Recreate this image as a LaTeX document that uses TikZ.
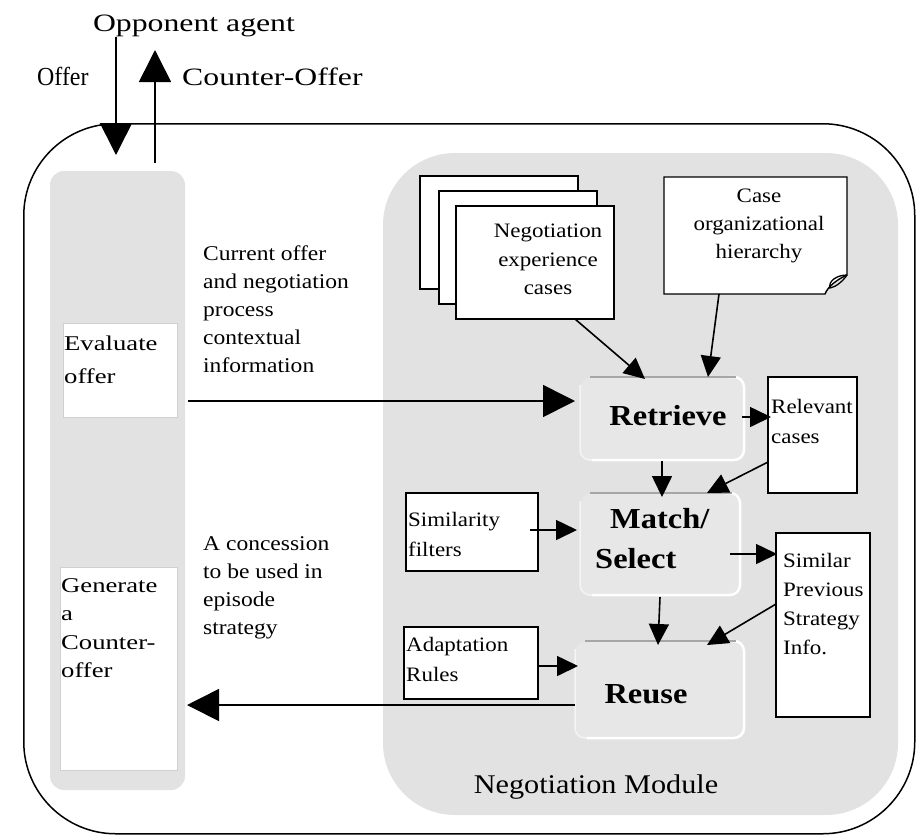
\documentclass[tikz,border=0pt]{standalone}
\usepackage{fontspec}
\setmainfont[FakeStretch=1.12]{Liberation Serif}
\newfontfamily\widefont[FakeStretch=1.27]{Liberation Serif}
\newfontfamily\narrowfont[FakeStretch=0.92]{Liberation Serif}
\usetikzlibrary{arrows.meta}
\definecolor{panelfill}{HTML}{E2E2E2}
\definecolor{procfill}{HTML}{E7E7E7}
\definecolor{procline}{HTML}{A6A6A6}
\definecolor{softedge}{HTML}{D0D0D0}
\begin{document}
\begin{tikzpicture}[x=1pt,y=-1pt,
  panel/.style={fill=panelfill, draw=none, inner sep=0, outer sep=0},
  wbox/.style={fill=white, draw=softedge, line width=1pt, inner sep=0, outer sep=0},
  doc/.style={fill=white, draw=black, line width=1.4pt, inner sep=0, outer sep=0},
  proc/.style={fill=procfill, draw=none, rounded corners=12, inner sep=0, outer sep=0},
  lbl/.style={inner sep=0, align=left, font=\fontsize{21}{28}\selectfont},
  boxlbl/.style={inner sep=0, align=left, font=\fontsize{20.5}{30}\selectfont},
  clbl/.style={inner sep=0, align=center, font=\fontsize{20.5}{28.5}\selectfont},
  big/.style={-{Triangle[length=32pt,width=32pt]}, line width=1.6pt},
  small/.style={-{Triangle[length=21pt,width=20pt]}, line width=1.6pt},
  bold/.style={inner sep=0, align=left, font=\fontsize{29}{40}\selectfont\bfseries}
]
\useasboundingbox (0,0) rectangle (917,836);

% agent frame
\node[draw, line width=1.5pt, rounded corners=92, inner sep=0, minimum width=891, minimum height=710, anchor=north west] (agent) at (23,123) {};

% left column with its two white panels
\node[panel, rounded corners=14, minimum width=135, minimum height=619, anchor=north west] (col) at (50,171) {};
\node[wbox, minimum width=114, minimum height=94, anchor=north west] (evalbox) at (63,323) {};
\node[wbox, minimum width=117, minimum height=203, anchor=north west] (genbox) at (60,567) {};
\node[inner sep=0, align=left, font=\widefont\fontsize{21}{33}\selectfont, anchor=north west] (evaltxt) at (64,336) {Evaluate\\offer};
\node[inner sep=0, align=left, font=\widefont\fontsize{21}{28.5}\selectfont, anchor=north west] (gentxt) at (61,578) {Generate\\a\\Counter-\\offer};

% negotiation module
\node[panel, rounded corners=72, minimum width=515, minimum height=662, anchor=north west] (module) at (383,153) {};
\node[inner sep=0, font=\fontsize{27}{30}\selectfont, anchor=base] (modtxt) at (596,793) {Negotiation Module};

% stacked case documents
\node[doc, minimum width=158, minimum height=113, anchor=north west] (caseback) at (420,176) {};
\node[doc, minimum width=158, minimum height=113, anchor=north west] (casemid) at (439,191) {};
\node[doc, minimum width=158, minimum height=113, anchor=north west] (cases) at (456,206) {};
\node[clbl, anchor=north] (casestxt) at (548,224) {Negotiation\\experience\\cases};

% case hierarchy document with a curled corner
\node[inner sep=0, outer sep=0, minimum width=183, minimum height=117, anchor=north west] (hier) at (664,177) {};
\draw[doc] (hier.north west) -- (hier.north east) -- ([shift={(0,-19)}]hier.south east)
  .. controls ([shift={(-9,-15)}]hier.south east) and ([shift={(-19,-8)}]hier.south east) .. ([shift={(-22,0)}]hier.south east)
  -- (hier.south west) -- cycle;
\draw[line width=1.3pt] ([shift={(0,-19)}]hier.south east)
  .. controls ([shift={(-10,-19)}]hier.south east) and ([shift={(-19,-13)}]hier.south east) .. ([shift={(-17,-6)}]hier.south east)
  .. controls ([shift={(-11,-7)}]hier.south east) and ([shift={(-4,-13)}]hier.south east) .. ([shift={(0,-19)}]hier.south east);
\node[clbl, font=\fontsize{20.5}{28}\selectfont, anchor=north] (hiertxt) at (759,189) {Case\\organizational\\hierarchy};

% process steps: flat grey face, white rim on the right, grey rule on top
\node[proc, minimum width=164, minimum height=83, anchor=north west] (retrieve) at (580,377) {};
\node[proc, minimum width=160, minimum height=102, anchor=north west] (match) at (580,493) {};
\node[proc, minimum width=169, minimum height=97, anchor=north west] (reuse) at (575,641) {};
\foreach \p in {retrieve,match,reuse}{
  \draw[white, line width=2.5pt, rounded corners=10] ([shift={(-16,0)}]\p.north east) -- (\p.north east) -- (\p.south east) -- ([shift={(12,0)}]\p.south west);
  \draw[white, opacity=0.6, line width=1.5pt, rounded corners=10] ([shift={(12,0)}]\p.south west) -- (\p.south west) -- ([shift={(0,8)}]\p.north west);
  \draw[procline, line width=2pt] ([shift={(10,0)}]\p.north west) -- ([shift={(-8,0)}]\p.north east);
}
\node[bold, anchor=base] (retrievetxt) at (668,425) {Retrieve};
\node[bold, anchor=north west] (matchtxt) at (595,508) {\hspace*{15pt}Match/\\Select};
\node[bold, anchor=base] (reusetxt) at (646,703) {Reuse};

% knowledge boxes
\node[doc, minimum width=89, minimum height=116, anchor=north west] (relevant) at (768,377) {};
\node[boxlbl, anchor=north west] (relevanttxt) at (771,399.5) {Relevant\\cases};
\node[doc, minimum width=132, minimum height=78, anchor=north west] (simfilt) at (406,493) {};
\node[boxlbl, anchor=north west] (simfilttxt) at (408,512.5) {Similarity\\filters};
\node[doc, minimum width=94, minimum height=184, anchor=north west] (simprev) at (776,533) {};
\node[boxlbl, font=\fontsize{20.5}{29}\selectfont, anchor=north west] (simprevtxt) at (783,553.5) {Similar\\Previous\\Strategy\\Info.};
\node[doc, minimum width=134, minimum height=72, anchor=north west] (adapt) at (404,627) {};
\node[boxlbl, anchor=north west] (adapttxt) at (406,637.5) {Adaptation\\Rules};

% outside labels
\node[inner sep=0, font=\widefont\fontsize{25}{30}\selectfont, anchor=base] (opp) at (194,31) {Opponent agent};
\node[inner sep=0, font=\narrowfont\fontsize{26}{30}\selectfont, anchor=base west] (offertxt) at (37,85) {Offer};
\node[inner sep=0, font=\widefont\fontsize{25}{30}\selectfont, anchor=base west] (countertxt) at (182,85) {Counter-Offer};
\node[lbl, anchor=north west] (curtxt) at (203,246) {Current offer\\and negotiation\\process\\contextual\\information};
\node[lbl, anchor=north west] (concesstxt) at (203,536) {A concession\\to be used in\\episode\\strategy};

% offer exchange with the opponent
\coordinate (offtop) at (116,37);
\coordinate (ctop) at (155,50);
\draw[big] (offtop) -- ([shift={(-1.5,-16)}]col.north);
\draw[big] ([shift={(37.5,-8)}]col.north) -- (ctop);

% data flow
\draw[big] ([shift={(11,31)}]evalbox.east) -- ([shift={(-5,-17.5)}]retrieve.west);
\draw[big] ([shift={(0,15.5)}]reuse.west) -- ([shift={(10,36.5)}]genbox.east);
\draw[small] ([shift={(40,0)}]cases.south) -- ([shift={(-17,2)}]retrieve.north);
\draw[small] ([shift={(-36.5,0)}]hier.south) -- ([shift={(46,0)}]retrieve.north);
\draw[small] ([shift={(-2,-1.5)}]retrieve.east) -- ([shift={(3,-18)}]relevant.west);
\draw[small] ([shift={(0,1)}]retrieve.south) -- ([shift={(2,4)}]match.north);
\draw[small] ([shift={(0,27)}]relevant.west) -- ([shift={(47,0)}]match.north);
\draw[small] ([shift={(-8,-2)}]simfilt.east) -- ([shift={(-3,-14)}]match.west);
\draw[small] ([shift={(-10,10)}]match.east) -- ([shift={(1,-71)}]simprev.west);
\draw[small] ([shift={(0,2)}]match.south) -- ([shift={(-1.5,4)}]reuse.north);
\draw[small] ([shift={(0,-21)}]simprev.west) -- ([shift={(47.5,4)}]reuse.north);
\draw[small] ([shift={(0,3)}]adapt.east) -- ([shift={(3,-23.5)}]reuse.west);
\end{tikzpicture}
\end{document}
